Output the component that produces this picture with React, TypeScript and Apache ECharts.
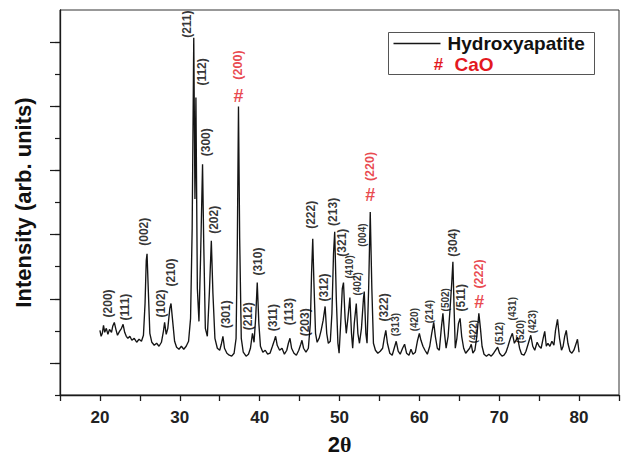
import React, { useEffect, useRef } from "react";
import * as echarts from "echarts";

// ---- Data (2θ in degrees, intensity in arbitrary units) ----
const twoTheta = [
  20.0, 20.15, 20.3, 20.45, 20.6, 20.8, 21.0, 21.2, 21.45, 21.6, 21.8, 22.0, 22.2, 22.45, 22.7, 22.9,
  23.1, 23.3, 23.5, 23.75, 24.0, 24.3, 24.6, 24.9, 25.2, 25.45, 25.65, 25.8, 25.9, 26.05, 26.25, 26.5,
  26.8, 27.1, 27.4, 27.7, 27.95, 28.1, 28.3, 28.5, 28.75, 28.9, 29.1, 29.35, 29.6, 29.9, 30.2, 30.5,
  30.8, 31.1, 31.35, 31.55, 31.75, 31.9, 32.02, 32.2, 32.4, 32.6, 32.85, 33.0, 33.2, 33.45, 33.7, 33.95,
  34.15, 34.4, 34.7, 35.0, 35.2, 35.4, 35.6, 35.9, 36.2, 36.5, 36.8, 37.05, 37.2, 37.35, 37.5, 37.7,
  37.95, 38.3, 38.6, 38.85, 39.1, 39.3, 39.5, 39.7, 39.9, 40.1, 40.4, 40.7, 41.0, 41.3, 41.6, 41.85,
  42.0, 42.2, 42.5, 42.8, 43.1, 43.4, 43.6, 43.8, 44.0, 44.3, 44.6, 44.9, 45.15, 45.3, 45.5, 45.8,
  46.1, 46.35, 46.5, 46.65, 46.8, 47.0, 47.2, 47.45, 47.7, 47.95, 48.2, 48.4, 48.6, 48.85, 49.05, 49.25,
  49.4, 49.6, 49.8, 49.95, 50.15, 50.35, 50.5, 50.7, 50.85, 51.05, 51.3, 51.5, 51.65, 51.85, 52.1, 52.3,
  52.5, 52.75, 53.0, 53.1, 53.3, 53.45, 53.65, 53.85, 54.05, 54.25, 54.5, 54.8, 55.1, 55.4, 55.6, 55.8,
  56.0, 56.3, 56.6, 56.85, 57.1, 57.35, 57.6, 57.9, 58.15, 58.4, 58.7, 58.95, 59.2, 59.5, 59.75, 60.0,
  60.2, 60.45, 60.7, 61.0, 61.3, 61.55, 61.8, 62.0, 62.25, 62.5, 62.75, 62.95, 63.15, 63.35, 63.6, 63.85,
  64.05, 64.2, 64.35, 64.5, 64.7, 64.9, 65.1, 65.3, 65.55, 65.8, 66.1, 66.3, 66.5, 66.7, 66.95, 67.2,
  67.45, 67.65, 67.85, 68.1, 68.4, 68.7, 69.0, 69.3, 69.55, 69.8, 70.05, 70.35, 70.6, 70.85, 71.1, 71.4,
  71.65, 71.9, 72.1, 72.3, 72.55, 72.8, 73.1, 73.35, 73.65, 73.95, 74.2, 74.45, 74.75, 75.0, 75.25, 75.5,
  75.7, 75.9, 76.1, 76.35, 76.6, 76.85, 77.05, 77.3, 77.55, 77.8, 78.0, 78.2, 78.4, 78.6, 78.85, 79.1,
  79.35, 79.6, 79.8, 80.0,
];
const intensity = [
  65, 59, 62, 70, 63, 67, 61, 66, 63, 69, 73, 66, 60, 64, 67, 71,
  63, 59, 57, 59, 55, 57, 53, 56, 54, 60, 92, 135, 142, 107, 62, 53,
  50, 52, 49, 53, 64, 73, 61, 67, 87, 92, 75, 54, 48, 46, 49, 46,
  49, 54, 77, 167, 359, 197, 299, 107, 74, 137, 232, 152, 67, 59, 102, 155,
  102, 57, 47, 45, 51, 59, 47, 42, 40, 39, 42, 57, 147, 290, 157, 57,
  43, 39, 41, 47, 62, 53, 77, 113, 72, 49, 43, 45, 41, 42, 49, 55,
  59, 50, 45, 47, 41, 45, 52, 57, 47, 42, 40, 45, 51, 55, 47, 43,
  47, 72, 122, 157, 112, 62, 53, 57, 65, 75, 89, 62, 52, 54, 82, 142,
  164, 97, 52, 42, 72, 107, 113, 77, 62, 77, 98, 62, 47, 72, 92, 62,
  52, 67, 97, 104, 62, 52, 107, 184, 107, 52, 45, 42, 44, 47, 57, 65,
  52, 42, 40, 47, 54, 44, 41, 47, 51, 42, 40, 46, 41, 43, 54, 62,
  55, 49, 45, 41, 49, 62, 73, 59, 47, 45, 67, 82, 62, 47, 59, 87,
  112, 134, 87, 47, 57, 72, 77, 59, 47, 42, 45, 47, 51, 42, 45, 59,
  82, 67, 49, 41, 39, 41, 39, 42, 45, 48, 42, 39, 40, 43, 49, 57,
  62, 52, 55, 58, 47, 41, 40, 44, 52, 60, 49, 45, 53, 49, 47, 57,
  64, 49, 52, 49, 54, 50, 65, 76, 57, 45, 49, 59, 65, 52, 44, 42,
  45, 51, 56, 43,
];

// Hydroxyapatite reflections (Miller indices) and where their labels sit
const hklNames = [
  "(200)", "(111)", "(002)", "(102)", "(210)", "(211)", "(112)", "(300)", "(202)", "(301)",
  "(212)", "(310)", "(311)", "(113)", "(203)", "(222)", "(312)", "(213)", "(321)", "(410)",
  "(402)", "(004)", "(322)", "(313)", "(420)", "(214)", "(502)", "(304)", "(511)", "(422)",
  "(512)", "(431)", "(520)", "(423)",
];
const hklTheta = [
  20.96, 23.19, 25.55, 27.66, 28.9, 30.89, 32.75, 33.25, 34.24, 35.73,
  38.58, 39.82, 41.68, 43.67, 45.66, 46.4, 48.01, 49.13, 50.37, 51.24,
  52.23, 52.86, 55.59, 56.95, 59.43, 61.3, 63.28, 64.27, 65.27, 66.76,
  69.98, 71.72, 72.71, 74.2,
];
const hklHeight = [
  78, 75, 150, 78, 109, 359, 311, 240, 162, 67,
  65, 120, 64, 70, 59, 167, 94, 170, 139, 117,
  100, 149, 74, 59, 64, 72, 84, 139, 84, 52,
  50, 75, 52, 62,
];
const smallHkl = ["(410)", "(402)", "(004)", "(313)", "(420)", "(214)", "(502)", "(422)", "(512)", "(431)", "(520)", "(423)"];

// CaO reflections
const caoNames = ["(200)", "(220)", "(222)"];
const caoTheta = [37.34, 53.85, 67.5];
const caoMarkHeight = [301, 201, 93];
const caoLabelHeight = [317, 215, 107];

// axes
const xMin = 15;
const xMax = 85;
const yMin = 0;
const yMax = 387;
const yMinorTicks = [0, 32.25, 64.5, 96.75, 129, 161.25, 193.5, 225.75, 258, 290.25, 322.5, 354.75];
const yMajorTicks = [32.25, 96.75, 161.25, 225.75, 290.25, 354.75];

const RED = "#e3191f";
const FONT = "'Liberation Sans', Arial, Helvetica, sans-serif";

export default function App() {
  const ref = useRef<HTMLDivElement>(null);

  useEffect(() => {
    if (!ref.current) return;
    const chart = echarts.init(ref.current, undefined, { renderer: "svg" });

    const lineData = twoTheta.map((t, i) => [t, intensity[i]]);
    const hklData = hklNames.map((n, i) => {
      const item: any = { name: n, value: [hklTheta[i], hklHeight[i]] };
      if (smallHkl.includes(n)) item.label = { fontSize: 10 };
      return item;
    });
    const caoMarkData = caoNames.map((n, i) => ({ name: n, value: [caoTheta[i], caoMarkHeight[i]] }));
    const caoLabelData = caoNames.map((n, i) => ({ name: n, value: [caoTheta[i], caoLabelHeight[i]] }));

    const axisLine = { show: true, lineStyle: { color: "#1a1a1a", width: 1.3 } };

    chart.setOption({
      animation: false,
      backgroundColor: "#ffffff",
      grid: {
        left: 60,
        top: 10,
        width: 564,
        height: 387,
        show: true,
        borderColor: "#333333",
        borderWidth: 1,
        backgroundColor: "transparent",
      },
      xAxis: {
        type: "value",
        min: xMin,
        max: xMax,
        interval: 5,
        axisLine,
        axisTick: { show: true, length: 6, lineStyle: { color: "#1a1a1a", width: 1.3 } },
        splitLine: { show: false },
        axisLabel: {
          margin: 14,
          fontSize: 17,
          fontWeight: "bold",
          color: "#222222",
          fontFamily: FONT,
          formatter: (v: number) => (v % 10 === 0 && v >= 20 && v <= 80 ? String(v) : ""),
        },
        name: "{a|2}{b|θ}",
        nameLocation: "middle",
        nameGap: 38,
        nameTextStyle: {
          rich: {
            a: { fontSize: 22, fontWeight: "bold", fontFamily: FONT, color: "#111111" },
            b: { fontSize: 22, fontWeight: "bold", fontFamily: "'Liberation Serif', 'DejaVu Serif', serif", color: "#111111" },
          },
        },
      },
      yAxis: [
        {
          type: "value",
          min: yMin,
          max: yMax,
          axisLine,
          axisTick: { show: true, length: 5, customValues: yMinorTicks, lineStyle: { color: "#1a1a1a", width: 1.2 } },
          axisLabel: { show: false, customValues: [] },
          splitLine: { show: false },
          name: "Intensity (arb. units)",
          nameLocation: "middle",
          nameGap: 26,
          nameTextStyle: { fontSize: 22, fontWeight: "bold", color: "#111111", fontFamily: FONT },
        },
        {
          type: "value",
          min: yMin,
          max: yMax,
          position: "left",
          axisLine: { show: false },
          axisTick: { show: true, length: 10, customValues: yMajorTicks, lineStyle: { color: "#1a1a1a", width: 1.2 } },
          axisLabel: { show: false, customValues: [] },
          splitLine: { show: false },
        },
      ],
      series: [
        {
          name: "Hydroxyapatite",
          type: "line",
          data: lineData,
          showSymbol: false,
          symbol: "none",
          lineStyle: { color: "#141414", width: 1.35 },
          z: 3,
          silent: true,
        },
        {
          name: "hkl",
          type: "scatter",
          data: hklData,
          symbolSize: 1,
          itemStyle: { color: "transparent" },
          silent: true,
          z: 4,
          label: {
            show: true,
            position: "inside",
            formatter: "{b}",
            rotate: 90,
            align: "left",
            verticalAlign: "middle",
            fontSize: 12,
            fontWeight: "bold",
            color: "#000000",
            fontFamily: FONT,
          },
        },
        {
          name: "CaO",
          type: "scatter",
          data: caoMarkData,
          symbolSize: 1,
          itemStyle: { color: "transparent" },
          silent: true,
          z: 4,
          label: {
            show: true,
            position: "inside",
            formatter: "#",
            align: "center",
            verticalAlign: "middle",
            fontSize: 18,
            fontWeight: "bold",
            color: RED,
            fontFamily: FONT,
          },
        },
        {
          name: "CaO hkl",
          type: "scatter",
          data: caoLabelData,
          symbolSize: 1,
          itemStyle: { color: "transparent" },
          silent: true,
          z: 4,
          label: {
            show: true,
            position: "inside",
            formatter: "{b}",
            rotate: 90,
            align: "left",
            verticalAlign: "middle",
            fontSize: 12.5,
            fontWeight: "bold",
            color: RED,
            fontFamily: FONT,
          },
        },
      ],
      graphic: [
        {
          type: "group",
          left: 388,
          top: 32,
          children: [
            {
              type: "rect",
              shape: { x: 0, y: 0, width: 206, height: 42 },
              style: { fill: "#ffffff", stroke: "#555555", lineWidth: 1 },
            },
            {
              type: "line",
              shape: { x1: 5, y1: 11, x2: 52, y2: 11 },
              style: { stroke: "#161616", lineWidth: 1.3 },
            },
            {
              type: "text",
              x: 59,
              y: 11,
              style: {
                text: "Hydroxyapatite",
                fontSize: 19,
                fontWeight: "bold",
                fill: "#111111",
                fontFamily: FONT,
                verticalAlign: "middle",
                align: "left",
              },
            },
            {
              type: "text",
              x: 50,
              y: 32,
              style: {
                text: "#",
                fontSize: 17,
                fontWeight: "bold",
                fill: RED,
                fontFamily: FONT,
                verticalAlign: "middle",
                align: "center",
              },
            },
            {
              type: "text",
              x: 66,
              y: 32,
              style: {
                text: "CaO",
                fontSize: 19,
                fontWeight: "bold",
                fill: RED,
                fontFamily: FONT,
                verticalAlign: "middle",
                align: "left",
              },
            },
          ],
        },
      ],
    });

    return () => chart.dispose();
  }, []);

  return (
    <div
      ref={ref}
      style={{ position: "fixed", left: 0, top: 0, width: 622, height: 460, background: "#fff" }}
    />
  );
}
